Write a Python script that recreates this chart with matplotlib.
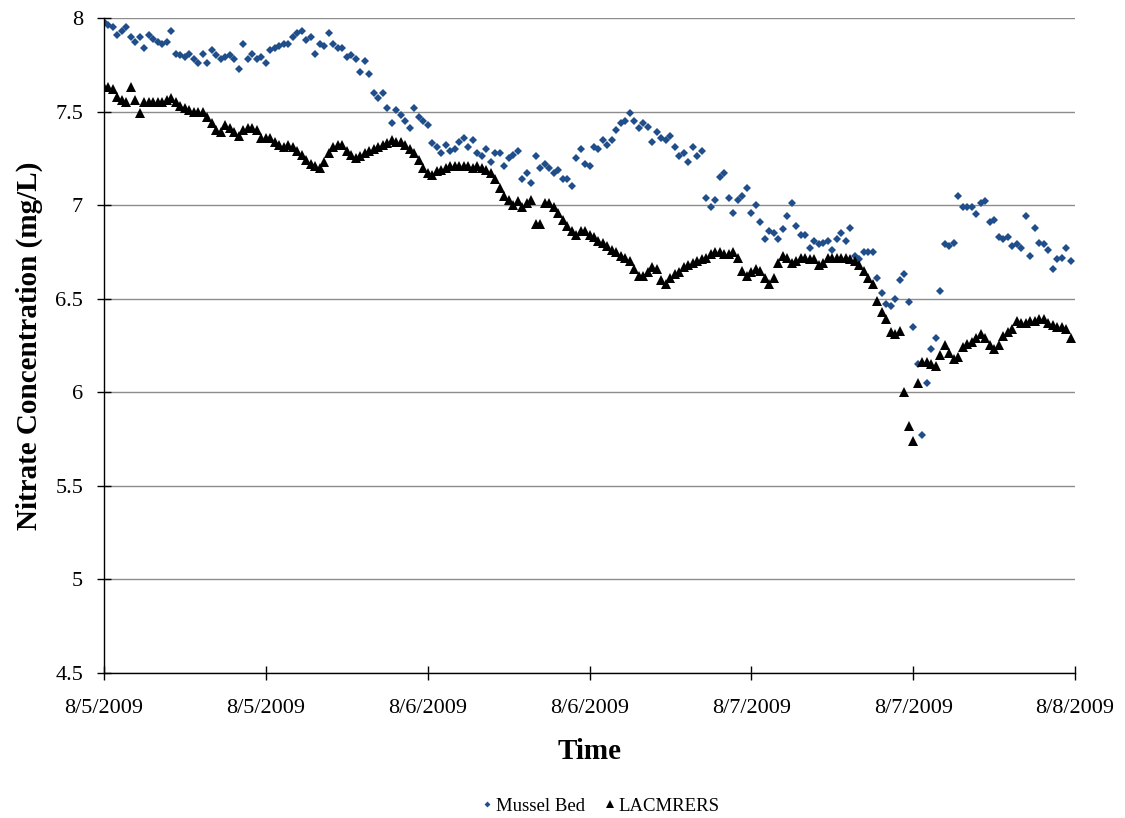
import matplotlib
matplotlib.use("Agg")
import matplotlib.pyplot as plt
import matplotlib.dates as mdates
import pandas as pd

# readings every 20 minutes starting 8/5/2009 00:00
start_time = "2009-08-05 00:00"
step = "20min"

mussel_bed = [
    7.98, 7.96, 7.95, 7.91, 7.93, 7.95, 7.90, 7.87, 7.90, 7.84,
    7.91, 7.89, 7.87, 7.86, 7.87, 7.93, 7.81, 7.80, 7.79, 7.81,
    7.78, 7.76, 7.81, 7.76, 7.83, 7.80, 7.78, 7.79, 7.80, 7.78,
    7.73, 7.86, 7.78, 7.81, 7.78, 7.79, 7.76, 7.83, 7.84, 7.85,
    7.86, 7.86, 7.90, 7.92, 7.93, 7.88, 7.90, 7.81, 7.86, 7.85,
    7.92, 7.86, 7.84, 7.84, 7.79, 7.80, 7.78, 7.71, 7.77, 7.70,
    7.60, 7.57, 7.60, 7.52, 7.44, 7.51, 7.48, 7.45, 7.41, 7.52,
    7.47, 7.45, 7.43, 7.33, 7.31, 7.28, 7.32, 7.29, 7.30, 7.34,
    7.36, 7.31, 7.35, 7.28, 7.26, 7.30, 7.23, 7.28, 7.28, 7.21,
    7.25, 7.27, 7.29, 7.14, 7.17, 7.12, 7.26, 7.20, 7.22, 7.20,
    7.17, 7.19, 7.14, 7.14, 7.10, 7.25, 7.30, 7.22, 7.21, 7.31,
    7.30, 7.35, 7.32, 7.35, 7.40, 7.44, 7.45, 7.49, 7.45, 7.41,
    7.44, 7.42, 7.34, 7.39, 7.36, 7.35, 7.37, 7.31, 7.26, 7.28,
    7.23, 7.31, 7.26, 7.29, 7.04, 6.99, 7.03, 7.15, 7.17, 7.04,
    6.96, 7.03, 7.05, 7.09, 6.96, 7.00, 6.91, 6.82, 6.86, 6.85,
    6.82, 6.87, 6.94, 7.01, 6.89, 6.84, 6.84, 6.77, 6.81, 6.79,
    6.80, 6.81, 6.76, 6.82, 6.85, 6.81, 6.88, 6.73, 6.71, 6.75,
    6.75, 6.75, 6.61, 6.53, 6.47, 6.46, 6.50, 6.60, 6.63, 6.48,
    6.35, 6.15, 5.77, 6.05, 6.23, 6.29, 6.54, 6.79, 6.78, 6.80,
    7.05, 6.99, 6.99, 6.99, 6.95, 7.01, 7.02, 6.91, 6.92, 6.83,
    6.82, 6.83, 6.78, 6.79, 6.77, 6.94, 6.73, 6.88, 6.80, 6.79,
    6.76, 6.66, 6.71, 6.72, 6.77, 6.70,
]

lacmrers = [
    7.63, 7.63, 7.62, 7.58, 7.56, 7.55, 7.63, 7.56, 7.49, 7.55,
    7.55, 7.55, 7.55, 7.55, 7.56, 7.57, 7.55, 7.53, 7.52, 7.51,
    7.50, 7.50, 7.50, 7.47, 7.44, 7.40, 7.39, 7.43, 7.41, 7.39,
    7.37, 7.40, 7.41, 7.41, 7.40, 7.36, 7.36, 7.36, 7.34, 7.32,
    7.31, 7.32, 7.31, 7.29, 7.27, 7.24, 7.22, 7.21, 7.20, 7.23,
    7.28, 7.31, 7.32, 7.32, 7.29, 7.27, 7.25, 7.26, 7.28, 7.29,
    7.30, 7.31, 7.32, 7.33, 7.35, 7.34, 7.34, 7.32, 7.30, 7.28,
    7.24, 7.20, 7.17, 7.16, 7.18, 7.19, 7.20, 7.21, 7.21, 7.21,
    7.21, 7.21, 7.20, 7.21, 7.20, 7.19, 7.17, 7.14, 7.09, 7.05,
    7.03, 7.00, 7.02, 6.99, 7.01, 7.03, 6.90, 6.90, 7.01, 7.01,
    6.99, 6.96, 6.92, 6.89, 6.86, 6.84, 6.86, 6.86, 6.84, 6.83,
    6.81, 6.80, 6.78, 6.76, 6.75, 6.73, 6.72, 6.70, 6.66, 6.62,
    6.62, 6.64, 6.67, 6.66, 6.60, 6.58, 6.61, 6.63, 6.64, 6.67,
    6.68, 6.69, 6.70, 6.71, 6.72, 6.74, 6.75, 6.75, 6.74, 6.74,
    6.75, 6.72, 6.65, 6.62, 6.64, 6.66, 6.65, 6.61, 6.58, 6.61,
    6.69, 6.73, 6.72, 6.69, 6.70, 6.72, 6.72, 6.71, 6.71, 6.68,
    6.69, 6.72, 6.72, 6.72, 6.72, 6.72, 6.71, 6.70, 6.68, 6.65,
    6.61, 6.58, 6.49, 6.43, 6.39, 6.32, 6.31, 6.33, 6.00, 5.82,
    5.74, 6.05, 6.16, 6.16, 6.15, 6.14, 6.20, 6.25, 6.21, 6.18,
    6.19, 6.24, 6.26, 6.27, 6.29, 6.31, 6.29, 6.25, 6.23, 6.25,
    6.30, 6.32, 6.34, 6.38, 6.37, 6.37, 6.38, 6.38, 6.39, 6.39,
    6.37, 6.36, 6.35, 6.35, 6.34, 6.29,
]

times = pd.date_range(start_time, periods=len(mussel_bed), freq=step)

plt.rcParams['font.family'] = ['Liberation Serif', 'DejaVu Serif']

fig = plt.figure(figsize=(11.25, 8.18), dpi=100)
ax = fig.add_axes([0.0924, 0.1773, 0.8632, 0.8007])

ax.plot(times, mussel_bed, 'D', color='#1F4E8A', ms=4.0, mew=0, label='Mussel Bed')
ax.plot(times, lacmrers, '^', color='black', ms=7, mew=0, label='LACMRERS')

ax.set_ylim(4.5, 8)
ax.set_yticks([4.5, 5, 5.5, 6, 6.5, 7, 7.5, 8])
ax.set_yticklabels(['4.5', '5', '5.5', '6', '6.5', '7', '7.5', '8'])
ax.set_xlim(pd.Timestamp('2009-08-05'), pd.Timestamp('2009-08-08'))
ax.xaxis.set_major_locator(mdates.HourLocator(byhour=[0, 12]))
ax.xaxis.set_major_formatter(mdates.DateFormatter('%-m/%-d/%Y'))

ax.grid(axis='y', color='#8c8c8c', lw=1)
ax.set_axisbelow(True)
for side in ['top', 'right']:
    ax.spines[side].set_visible(False)
for side in ['left', 'bottom']:
    ax.spines[side].set_color('black')
    ax.spines[side].set_linewidth(1)
ax.tick_params(direction='inout', length=10, width=1, labelsize=16, pad=10)
ax.tick_params(axis='x', pad=14)

ax.set_xlabel('Time', fontsize=21, fontweight='bold', labelpad=14)
ax.set_ylabel('Nitrate Concentration (mg/L)', fontsize=21, fontweight='bold', labelpad=9)

fig.legend(loc='center', bbox_to_anchor=(0.533, 0.0147), ncol=2, frameon=False,
           fontsize=13.5, markerscale=0.75, handlelength=0.8, handletextpad=0.1,
           columnspacing=0.9)

fig.savefig('out.png', dpi=100)
